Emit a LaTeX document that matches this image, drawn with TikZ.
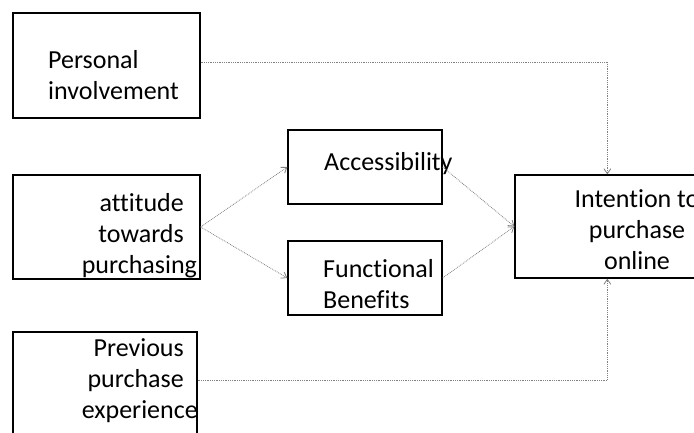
\documentclass[tikz,border=0pt]{standalone}
\usepackage{fontspec}
\setmainfont{Carlito}[Ligatures=NoCommon]
\usetikzlibrary{arrows.meta,positioning}

\begin{document}
\begin{tikzpicture}[x=1pt,y=-1pt,
  box/.style={draw,line width=1.3pt,inner sep=0pt},
  txt/.style={inner sep=0pt,font=\fontsize{26}{31}\selectfont},
  link/.style={draw=gray,densely dotted,line width=0.8pt,-{Straight Barb[length=5pt,width=7pt]}}]

\useasboundingbox (0,0) rectangle (694,432);

\node[box,minimum width=187,minimum height=105] (PI) at (106.5,65.5) {};
\node[box,minimum width=187,minimum height=104] (ATT) at (106.5,227) {};
\node[box,minimum width=184,minimum height=106] (PREV) at (105,385) {};
\node[box,minimum width=154,minimum height=74] (ACC) at (365,167) {};
\node[box,minimum width=154,minimum height=74] (FB) at (365,278) {};
\node[box,minimum width=244,minimum height=103] (INT) at (637,226.5) {};

\node[txt,align=left,anchor=west] (PI-t) at (48,75) {Personal\\involvement};
\node[txt,align=right,text width=102,anchor=east] (ATT-t) at (184,236) {attitude\\towards\\purchasing};
\node[txt,align=right,text width=102,anchor=east] (PREV-t) at (184,381) {Previous\\purchase\\experience};
\node[txt,anchor=west] (ACC-t) at (324,164) {Accessibility};
\node[txt,align=left,anchor=west] (FB-t) at (323,284) {Functional\\Benefits};
\node[txt,align=center] (INT-t) at (637,230) {Intention to\\purchase\\online};

\coordinate (INT-in1) at ([xshift=93pt]INT.north west);
\coordinate (INT-in2) at ([xshift=93pt]INT.south west);

\draw[link] (PI.east |- 0,62) -| (INT-in1);
\draw[link] (PREV.east |- 0,380) -| (INT-in2);

\draw[link] (ATT.east) -- (ACC.west);
\draw[link] (ATT.east) -- (FB.west);

\draw[link] (ACC.east) -- (INT.west);
\draw[link] (FB.east) -- (INT.west);
\end{tikzpicture}
\end{document}
